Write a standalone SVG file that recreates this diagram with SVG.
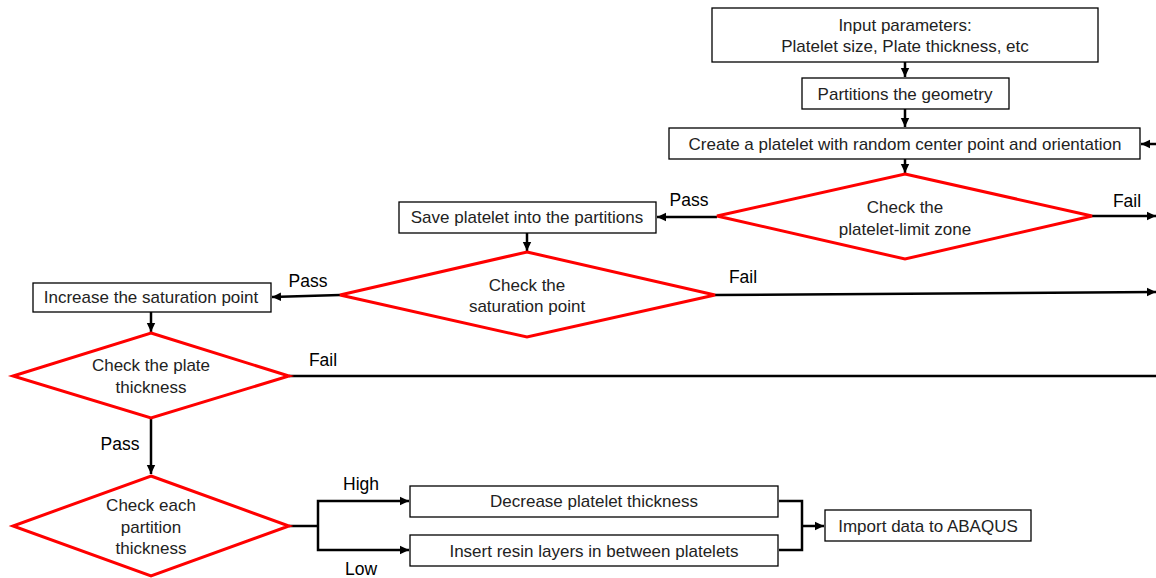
<svg xmlns="http://www.w3.org/2000/svg" width="1156" height="578" viewBox="0 0 1156 578">
<style>
.box{fill:#fff;stroke:#000;stroke-width:1.3}
.dia{fill:#fff;stroke:#ff0000;stroke-width:3}
.t{font-family:"Liberation Sans",Arial,sans-serif;font-size:17px;fill:#222;text-anchor:middle;dominant-baseline:central}
.lab{font-family:"Liberation Sans",Arial,sans-serif;font-size:17.5px;fill:#000;text-anchor:middle;dominant-baseline:central}
.c{fill:none;stroke:#000;stroke-width:2.5}
</style>
<defs>
<marker id="ah" markerUnits="userSpaceOnUse" markerWidth="10" markerHeight="10" viewBox="0 0 10 10" refX="9" refY="5" orient="auto">
<path d="M0,0.8 L9,5 L0,9.2 z" fill="#000"/>
</marker>
</defs>
<rect width="1156" height="578" fill="#fff"/>
<g id="connectors">
<line class="c" x1="905" y1="62" x2="905" y2="77" marker-end="url(#ah)"/>
<line class="c" x1="905" y1="109" x2="905" y2="127" marker-end="url(#ah)"/>
<line class="c" x1="905" y1="159" x2="905" y2="173" marker-end="url(#ah)"/>
<line class="c" x1="1156" y1="144" x2="1141" y2="144" marker-end="url(#ah)"/>
<line class="c" x1="717" y1="217" x2="657" y2="217" marker-end="url(#ah)"/>
<line class="c" x1="1092" y1="216" x2="1156" y2="216" marker-end="url(#ah)"/>
<line class="c" x1="527" y1="233" x2="527" y2="251" marker-end="url(#ah)"/>
<line class="c" x1="340" y1="295" x2="272" y2="297" marker-end="url(#ah)"/>
<line class="c" x1="715" y1="295" x2="1156" y2="292" marker-end="url(#ah)"/>
<line class="c" x1="151" y1="312" x2="151" y2="332" marker-end="url(#ah)"/>
<line class="c" x1="289" y1="376" x2="1156" y2="376"/>
<line class="c" x1="151" y1="418" x2="151" y2="474" marker-end="url(#ah)"/>
<polyline class="c" points="289,526 318,526"/>
<polyline class="c" points="318,526 318,501 409,501" marker-end="url(#ah)"/>
<polyline class="c" points="318,526 318,550 409,550" marker-end="url(#ah)"/>
<polyline class="c" points="779,501 802,501 802,550 779,550"/>
<line class="c" x1="802" y1="526" x2="824" y2="526" marker-end="url(#ah)"/>
<text class="lab" x="689" y="200">Pass</text>
<text class="lab" x="1127" y="201">Fail</text>
<text class="lab" x="308" y="281">Pass</text>
<text class="lab" x="743" y="277">Fail</text>
<text class="lab" x="323" y="360">Fail</text>
<text class="lab" x="120" y="444">Pass</text>
<text class="lab" x="361" y="484">High</text>
<text class="lab" x="361" y="569">Low</text>
</g>
<g id="input">
<rect class="box" x="712" y="8" width="386" height="54"/>
<text class="t" x="905" y="25">Input parameters:</text>
<text class="t" x="905" y="46">Platelet size, Plate thickness, etc</text>
</g>
<g id="partitions">
<rect class="box" x="802" y="78" width="207" height="31"/>
<text class="t" x="905" y="94">Partitions the geometry</text>
</g>
<g id="create">
<rect class="box" x="669" y="128" width="471" height="31"/>
<text class="t" x="905" y="144">Create a platelet with random center point and orientation</text>
</g>
<g id="check-limit">
<polygon class="dia" points="905,174 1092,216 905,259 717,216"/>
<text class="t" x="905" y="207">Check the</text>
<text class="t" x="905" y="229">platelet-limit zone</text>
</g>
<g id="save">
<rect class="box" x="399" y="202" width="257" height="31"/>
<text class="t" x="527" y="217">Save platelet into the partitions</text>
</g>
<g id="check-saturation">
<polygon class="dia" points="527,252 715,295 527,337 340,295"/>
<text class="t" x="527" y="285">Check the</text>
<text class="t" x="527" y="306">saturation point</text>
</g>
<g id="increase">
<rect class="box" x="33" y="283" width="238" height="29"/>
<text class="t" x="151" y="297">Increase the saturation point</text>
</g>
<g id="check-plate">
<polygon class="dia" points="151,333 289,376 151,418 13,376"/>
<text class="t" x="151" y="365">Check the plate</text>
<text class="t" x="151" y="387">thickness</text>
</g>
<g id="check-partition">
<polygon class="dia" points="151,476 289,526 151,576 13,526"/>
<text class="t" x="151" y="505">Check each</text>
<text class="t" x="151" y="527">partition</text>
<text class="t" x="151" y="548">thickness</text>
</g>
<g id="decrease">
<rect class="box" x="410" y="486" width="368" height="31"/>
<text class="t" x="594" y="501">Decrease platelet thickness</text>
</g>
<g id="insert">
<rect class="box" x="410" y="535" width="368" height="31"/>
<text class="t" x="594" y="551">Insert resin layers in between platelets</text>
</g>
<g id="import">
<rect class="box" x="825" y="510" width="206" height="31"/>
<text class="t" x="928" y="526">Import data to ABAQUS</text>
</g>
</svg>
